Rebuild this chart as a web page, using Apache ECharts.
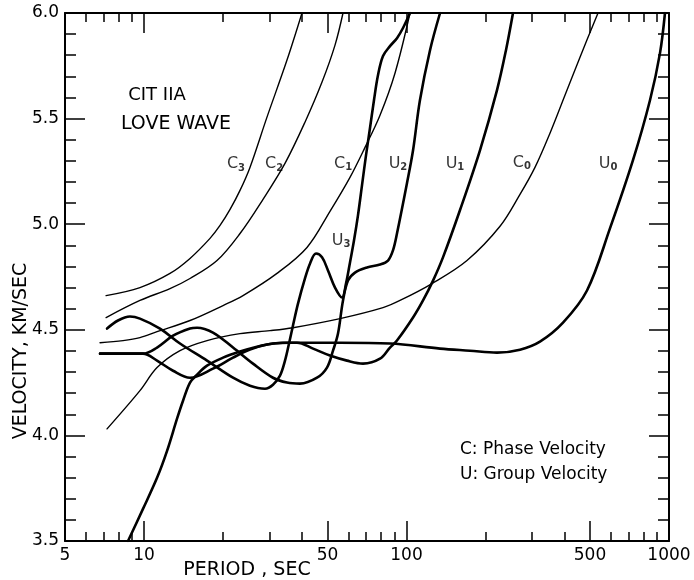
<!DOCTYPE html>
<html>
<head>
<meta charset="utf-8">
<script src="https://cdn.jsdelivr.net/npm/echarts@6/dist/echarts.min.js"></script>
<style>html,body{margin:0;padding:0;background:#fff}#c{width:694px;height:580px}</style>
</head>
<body>
<div id="c"></div>
<script>
// ---- data (period in s, velocity in km/s) ----
const periodTickLabels = [5, 10, 50, 100, 500, 1000];
const periodTicksMajor = [10, 50, 100, 500];
const periodTicksMinor = [6, 7, 8, 9, 20, 30, 40, 60, 70, 80, 90, 200, 300, 400, 600, 700, 800, 900];
const velocityTickLabels = [3.5, 4.0, 4.5, 5.0, 5.5, 6.0];

// phase velocities (thin)
const C0 = [[7.23,4.031],[9.65,4.212],[11.21,4.321],[13.71,4.401],[17.38,4.449],[23.21,4.482],[30.20,4.496],[36.94,4.510],[55.80,4.553],[81.37,4.605],[94.45,4.639],[125.1,4.719],[170.0,4.828],[227.1,4.990],[270.6,5.141],[308.6,5.269],[352.0,5.431],[401.5,5.611],[458.1,5.791],[536.5,6.0]];
const C1 = [[6.80,4.439],[8.32,4.449],[9.65,4.463],[11.21,4.491],[14.97,4.544],[20.00,4.615],[23.83,4.662],[32.10,4.767],[41.77,4.890],[51.10,5.061],[60.91,5.222],[69.49,5.364],[79.26,5.516],[90.38,5.715],[103.1,6.0]];
const C2 = [[7.17,4.558],[9.65,4.639],[12.56,4.695],[14.97,4.743],[18.97,4.828],[23.21,4.956],[28.40,5.118],[34.44,5.288],[41.04,5.483],[47.66,5.673],[53.41,5.848],[57.29,6.0]];
const C3 = [[7.17,4.662],[9.65,4.700],[12.56,4.767],[14.97,4.838],[17.84,4.933],[19.48,4.994],[21.27,5.070],[23.21,5.160],[25.33,5.269],[29.41,5.507],[35.05,5.777],[39.98,6.0]];

// group velocities (thick)
const U0 = [[8.69,3.5],[9.91,3.652],[11.21,3.799],[12.24,3.927],[13.36,4.079],[14.08,4.164],[14.97,4.250],[15.92,4.287],[17.38,4.330],[20.00,4.368],[23.21,4.397],[26.94,4.420],[31.00,4.435],[35.98,4.439],[44.05,4.439],[55.80,4.439],[86.50,4.435],[134.2,4.411],[174.5,4.401],[221.2,4.392],[270.6,4.406],[322.4,4.444],[394.7,4.534],[487.1,4.686],[595.8,4.980],[729.1,5.303],[846.4,5.587],[924.0,5.810],[965.3,6.0]];
const U1 = [[6.80,4.387],[9.91,4.387],[11.21,4.354],[12.90,4.306],[14.97,4.273],[18.31,4.316],[21.83,4.368],[25.33,4.406],[29.41,4.430],[33.84,4.439],[38.26,4.439],[44.05,4.411],[51.10,4.378],[59.33,4.354],[68.27,4.340],[79.26,4.363],[86.50,4.416],[91.98,4.449],[105.9,4.558],[115.6,4.639],[126.2,4.733],[137.7,4.843],[159.8,5.066],[190.5,5.350],[221.2,5.635],[239.3,5.824],[254.5,6.0]];
const U2 = [[6.80,4.387],[9.91,4.387],[11.21,4.416],[12.90,4.472],[14.97,4.506],[15.92,4.510],[18.31,4.487],[21.83,4.416],[26.01,4.340],[31.00,4.273],[35.05,4.250],[39.28,4.245],[45.61,4.273],[49.78,4.321],[52.48,4.401],[54.83,4.482],[57.29,4.639],[59.85,4.733],[63.63,4.771],[70.69,4.795],[79.26,4.809],[85.02,4.828],[88.81,4.876],[91.98,4.956],[100.4,5.194],[105.9,5.350],[112.5,5.587],[122.9,5.824],[134.2,6.0]];
const U3 = [[7.23,4.506],[7.96,4.544],[8.84,4.563],[9.65,4.553],[11.50,4.506],[13.71,4.435],[17.38,4.354],[21.83,4.273],[25.33,4.235],[28.90,4.221],[31.00,4.240],[32.96,4.283],[34.44,4.354],[35.68,4.435],[36.94,4.520],[38.60,4.624],[41.04,4.743],[42.91,4.814],[45.21,4.861],[47.66,4.843],[50.22,4.781],[53.41,4.700],[56.79,4.653],[58.82,4.719],[60.91,4.819],[63.08,4.923],[65.33,5.042],[67.67,5.184],[70.09,5.326],[72.57,5.454],[75.17,5.587],[77.89,5.706],[81.37,5.796],[86.50,5.843],[91.98,5.881],[96.97,5.929],[103.1,6.0]];

// curve labels
const labelText = ['C3', 'C2', 'C1', 'U3', 'U2', 'U1', 'C0', 'U0'];
const labelPeriod = [22.4, 31.3, 57.3, 56.3, 92.8, 153, 275, 586];
const labelVel = [5.284, 5.284, 5.288, 4.923, 5.288, 5.288, 5.292, 5.288];

// ---- chart ----
const FONT = 'DejaVu Sans';
const BLACK = '#000';
const lg = a => a.map(v => Math.log10(v));
const lmin = Math.log10(5), lmax = Math.log10(1000);

function tickAxis(position, values, len, line, labels) {
  return {
    type: 'value', min: lmin, max: lmax, position: position,
    axisLine: {show: line, onZero: false, lineStyle: {color: BLACK, width: 2}},
    axisTick: {show: true, inside: true, length: len, customValues: lg(values), lineStyle: {color: BLACK, width: 1.5}},
    axisLabel: labels ? {
      show: true, customValues: lg(labels), margin: 6,
      formatter: v => String(Math.round(Math.pow(10, v))),
      fontSize: 17, fontFamily: FONT, color: BLACK
    } : {show: false},
    splitLine: {show: false}
  };
}

function yAxisDef(position, labels) {
  return {
    type: 'value', min: 3.5, max: 6.0, interval: 0.5, position: position,
    axisLine: {show: true, onZero: false, lineStyle: {color: BLACK, width: 2}},
    axisTick: {show: true, inside: true, length: 20, lineStyle: {color: BLACK, width: 1.5}},
    minorTick: {show: true, splitNumber: 5, length: 11, lineStyle: {color: BLACK, width: 1.5}},
    axisLabel: labels ? {
      show: true, margin: 6, showMinLabel: true, showMaxLabel: true,
      customValues: velocityTickLabels,
      formatter: v => v.toFixed(1), fontSize: 17, fontFamily: FONT, color: BLACK
    } : {show: false},
    splitLine: {show: false}
  };
}

function curve(name, data, width) {
  return {
    name: name, type: 'line', data: data, xAxisIndex: 0, yAxisIndex: 0,
    smooth: 0.35, symbol: 'none', silent: true,
    lineStyle: {color: BLACK, width: width, cap: 'round', join: 'round'}
  };
}

const chart = echarts.init(document.getElementById('c'), null, {renderer: 'canvas'});
chart.setOption({
  animation: false,
  backgroundColor: '#fff',
  grid: {left: 65, right: 25, top: 13, bottom: 39, containLabel: false},
  xAxis: [
    {type: 'log', logBase: 10, min: 5, max: 1000, show: false},
    tickAxis('bottom', periodTicksMajor, 20, true, periodTickLabels),
    tickAxis('bottom', periodTicksMinor, 9, false, null),
    tickAxis('top', periodTicksMajor, 20, true, null),
    tickAxis('top', periodTicksMinor, 9, false, null)
  ],
  yAxis: [yAxisDef('left', true), yAxisDef('right', false)],
  series: [
    curve('C0', C0, 1.4), curve('C1', C1, 1.4), curve('C2', C2, 1.4), curve('C3', C3, 1.4),
    curve('U0', U0, 2.6), curve('U1', U1, 2.6), curve('U2', U2, 2.6), curve('U3', U3, 2.6),
    {
      type: 'scatter', xAxisIndex: 0, yAxisIndex: 0, symbolSize: 0, silent: true,
      data: labelText.map((t, i) => ({name: t, value: [labelPeriod[i], labelVel[i]]})),
      label: {
        show: true, position: 'inside', color: BLACK,
        formatter: p => '{m|' + p.name.charAt(0) + '}{s|' + p.name.slice(1) + '}',
        rich: {
          m: {fontSize: 16, fontFamily: FONT, color: BLACK, lineHeight: 18, verticalAlign: 'middle'},
          s: {fontSize: 10, fontFamily: FONT, color: BLACK, fontWeight: 'bold', lineHeight: 10, verticalAlign: 'bottom'}
        }
      }
    }
  ],
  graphic: [
    {type: 'text', x: 157, y: 95, silent: true,
      style: {text: 'CIT IIA', fontSize: 18, fontFamily: FONT, fill: BLACK, align: 'center', verticalAlign: 'middle', textAlign: 'center', textVerticalAlign: 'middle'}},
    {type: 'text', x: 176, y: 124, silent: true,
      style: {text: 'LOVE WAVE', fontSize: 19, fontFamily: FONT, fill: BLACK, align: 'center', verticalAlign: 'middle', textAlign: 'center', textVerticalAlign: 'middle'}},
    {type: 'text', x: 460, y: 450, silent: true,
      style: {text: 'C: Phase Velocity', fontSize: 17, fontFamily: FONT, fill: BLACK, align: 'left', verticalAlign: 'middle', textAlign: 'left', textVerticalAlign: 'middle'}},
    {type: 'text', x: 460, y: 475, silent: true,
      style: {text: 'U: Group Velocity', fontSize: 17, fontFamily: FONT, fill: BLACK, align: 'left', verticalAlign: 'middle', textAlign: 'left', textVerticalAlign: 'middle'}},
    {type: 'text', x: 247, y: 570, silent: true,
      style: {text: 'PERIOD , SEC', fontSize: 19, fontFamily: FONT, fill: BLACK, align: 'center', verticalAlign: 'middle', textAlign: 'center', textVerticalAlign: 'middle'}},
    {type: 'text', x: 21, y: 351, rotation: Math.PI / 2, silent: true,
      style: {text: 'VELOCITY, KM/SEC', fontSize: 19, fontFamily: FONT, fill: BLACK, align: 'center', verticalAlign: 'middle', textAlign: 'center', textVerticalAlign: 'middle'}}
  ]
});
</script>
</body>
</html>
